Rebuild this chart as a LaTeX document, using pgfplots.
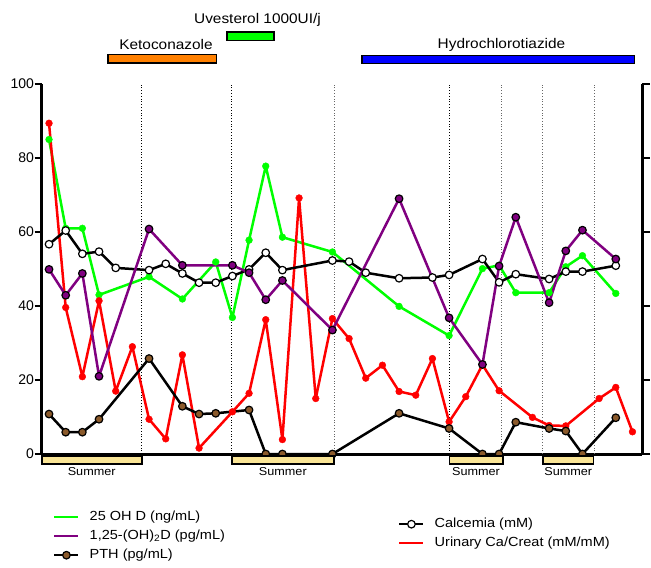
\documentclass[border=0pt]{standalone}
\usepackage{fontspec}
\setmainfont{Liberation Sans}
\newfontfamily\lab[FakeStretch=1.1]{Liberation Sans}
\usepackage{pgfplots}
\pgfplotsset{compat=1.18}
\definecolor{cgreen}{HTML}{00FF00}
\definecolor{cred}{HTML}{FF0000}
\definecolor{cpurple}{HTML}{800080}
\definecolor{cbrown}{HTML}{8B5A2B}
\definecolor{corange}{HTML}{FF8000}
\definecolor{cblue}{HTML}{0000FF}
\definecolor{csummer}{HTML}{FAE596}
\pgfplotsset{
  mylegend/.style={
    legend image code/.code={\draw[mark repeat=2,mark phase=2,##1] plot coordinates {(0bp,0bp) (12bp,0bp) (24bp,0bp)};},
    legend cell align=left,
    legend style={draw=none, fill=none, inner sep=0pt,
      font=\lab\fontsize{13.2bp}{14bp}\selectfont,
      nodes={inner sep=0pt, text height=10bp, text depth=3bp},
      cells={anchor=west}, row sep=6bp,
      /tikz/every odd column/.append style={column sep=10bp},
      anchor=north west},
  }
}
\begin{document}
\begin{tikzpicture}
\path[use as bounding box] (0,0) rectangle (651bp,-568bp);
\begin{axis}[
  scale only axis, width=600.6bp, height=370bp,
  at={(41.7bp,-454bp)}, anchor=south west,
  xmin=-0.44, xmax=35.59, ymin=0, ymax=100,
  axis x line*=bottom, axis y line*=left,
  x axis line style={line width=3bp, -},
  y axis line style={line width=2.5bp, -},
  xtick=\empty, ytick={0,20,40,60,80,100},
  tick align=outside, major tick length=7bp,
  ytick style={line width=2.5bp, black},
  yticklabel style={font=\fontsize{14bp}{16bp}\selectfont, inner sep=0.5bp},
  /pgf/number format/assume math mode=true,
  clip=false,
  mylegend,
  legend style={at={(axis description cs:0.0188,-0.1527)}},
  every axis plot/.append style={line width=2.5bp, line join=round},
]
% separators
\draw[dotted, line width=0.8bp, black] (axis cs:5.56,0) -- (axis cs:5.56,100);
\draw[dotted, line width=0.8bp, black] (axis cs:10.96,0) -- (axis cs:10.96,100);
\draw[dotted, line width=0.8bp, black!60] (axis cs:17.1,0) -- (axis cs:17.1,100);
\draw[dotted, line width=0.8bp, black] (axis cs:24.01,0) -- (axis cs:24.01,100);
\draw[dotted, line width=0.8bp, black!60] (axis cs:27.16,0) -- (axis cs:27.16,100);
\draw[dotted, line width=0.8bp, black!60] (axis cs:29.62,0) -- (axis cs:29.62,100);
\draw[dotted, line width=0.8bp, black!60] (axis cs:32.7,0) -- (axis cs:32.7,100);

% 25 OH D
\addplot[cgreen, mark=*, mark size=3.4bp, mark options={solid, fill=cgreen, draw=cgreen, line width=0.4bp}, forget plot] coordinates {
(0,85.0) (1,61.0) (2,61.0) (3,43.0) (6,47.9) (8,41.9) (10,51.9) (11,36.9) (12,57.8) (13,77.8) (14,58.6) (17,54.6) (21,39.9) (24,32.0) (26,50.1) (27,51.0) (28,43.6) (30,43.6) (31,50.6) (32,53.6) (34,43.4)};
% Urinary Ca/Creat
\addplot[cred, mark=*, mark size=3.4bp, mark options={solid, fill=cred, draw=cred, line width=0.4bp}, forget plot] coordinates {
(0,89.4) (1,39.6) (2,20.9) (3,41.4) (4,17.0) (5,29.0) (6,9.4) (7,4.1) (8,26.8) (9,1.6) (11,11.4) (12,16.4) (13,36.3) (14,3.9) (15,69.2) (16,15.0) (17,36.6) (18,31.2) (19,20.5) (20,24.0) (21,16.9) (22,15.9) (23,25.8) (24,8.7) (25,15.5) (26,24.1) (27,17.1) (29,9.9) (30,7.7) (31,7.6) (33,15.0) (34,18.0) (35,6.0)};
% Calcemia
\addplot[black, mark=*, mark size=3.8bp, mark options={solid, fill=white, draw=black, line width=1.2bp}, forget plot] coordinates {
(0,56.7) (1,60.4) (2,54.1) (3,54.7) (4,50.3) (6,49.7) (7,51.4) (8,48.8) (9,46.3) (10,46.3) (11,48.1) (12,49.9) (13,54.4) (14,49.7) (17,52.3) (18,52.0) (19,49.0) (21,47.5) (23,47.7) (24,48.4) (26,52.7) (27,46.4) (28,48.6) (30,47.3) (31,49.3) (32,49.3) (34,50.9)};
% PTH
\addplot[black, mark=*, mark size=3.8bp, mark options={solid, fill=cbrown, draw=black, line width=1.2bp}, forget plot] coordinates {
(0,10.8) (1,5.9) (2,5.9) (3,9.4) (6,25.8) (8,12.9) (9,10.8) (10,11.0) (12,11.9) (13,0) (14,0) (17,0) (21,11.0) (24,6.9) (26,0) (27,0) (28,8.6) (30,6.9) (31,6.2) (32,0) (34,9.8)};
% 1,25-(OH)2D
\addplot[cpurple, mark=*, mark size=3.8bp, mark options={solid, fill=cpurple, draw=black, line width=1.2bp}, forget plot] coordinates {
(0,49.9) (1,42.9) (2,48.8) (3,21.0) (6,60.8) (8,51.0) (11,51.0) (12,49.0) (13,41.7) (14,46.9) (17,33.5) (21,69.0) (24,36.8) (26,24.2) (27,50.8) (28,64.0) (30,40.9) (31,54.9) (32,60.5) (34,52.7)};

\addlegendimage{cgreen, line width=2.5bp}
\addlegendentry{25 OH D (ng/mL)}
\addlegendimage{cpurple, line width=2.5bp}
\addlegendentry{1,25-(OH)\textsubscript{2}D (pg/mL)}
\addlegendimage{black, line width=2.5bp, mark=*, mark size=3.8bp, mark options={fill=cbrown, draw=black, line width=1.2bp}}
\addlegendentry{PTH (pg/mL)}
\end{axis}

\begin{axis}[
  scale only axis, width=600.6bp, height=370bp,
  at={(41.7bp,-454bp)}, anchor=south west,
  xmin=0, xmax=1, ymin=0, ymax=1, hide axis,
  mylegend,
  legend style={at={(axis description cs:0.5932,-0.1716)}},
]
\addlegendimage{black, line width=2.5bp, mark=*, mark size=3.8bp, mark options={fill=white, draw=black, line width=1.2bp}}
\addlegendentry{Calcemia (mM)}
\addlegendimage{cred, line width=2.5bp}
\addlegendentry{Urinary Ca/Creat (mM/mM)}
\end{axis}

\begin{scope}[x=1bp, y=-1bp]
  % right axis
  \draw[line width=2.5bp] (642.3,84) -- (642.3,455);
  \foreach \yy in {84,158,232,306,380,454} \draw[line width=2.5bp] (642.3,\yy) -- (650,\yy);
  % summer bars
  \foreach \a/\b in {41.7/141.7, 231.7/334, 449.3/502.7, 543/593.5} {
    \draw[line width=1.6bp, fill=csummer] (\a,455.8) rectangle (\b,464);
    \node[font=\lab\fontsize{11.5bp}{12bp}\selectfont, inner sep=0pt] at ({(\a+\b)/2},471.5) {Summer};
  }
  % treatment bars
  \draw[line width=1.6bp, fill=corange] (108,54.5) rectangle (216.5,63);
  \draw[line width=1.6bp, fill=cgreen] (227,32.2) rectangle (274,40.3);
  \draw[line width=1.6bp, fill=cblue] (362,55.5) rectangle (634.5,63.5);
  \node[font=\lab\fontsize{14bp}{16bp}\selectfont, inner sep=0pt] at (166,44) {Ketoconazole};
  \node[font=\lab\fontsize{14bp}{16bp}\selectfont, inner sep=0pt] at (257.5,20) {Uvesterol 1000UI/j};
  \node[font=\lab\fontsize{14bp}{16bp}\selectfont, inner sep=0pt] at (501.5,44.5) {Hydrochlorotiazide};
\end{scope}
\end{tikzpicture}
\end{document}
